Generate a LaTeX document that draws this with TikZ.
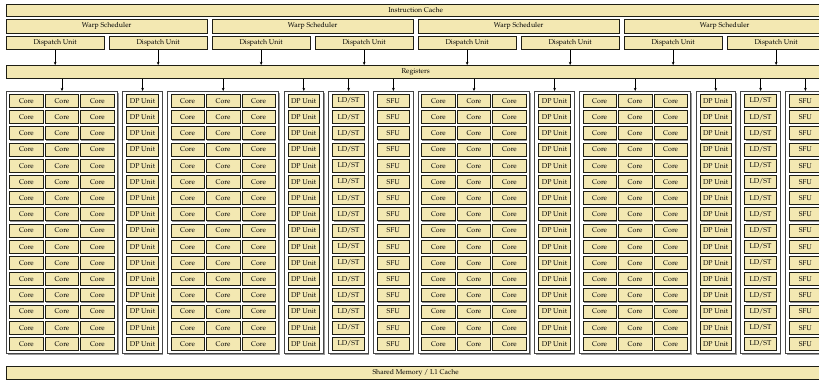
\documentclass[tikz,border=0pt]{standalone}
\usepackage[T1]{fontenc}
\usetikzlibrary{shadows,arrows.meta}
\renewcommand{\rmdefault}{ppl}
\newcommand{\ldstlabel}{LD/ST}
\definecolor{unitfill}{RGB}{243,232,178}
\definecolor{boxline}{RGB}{30,30,20}
\definecolor{grpline}{RGB}{70,70,70}
\tikzset{
  unit/.style={draw=boxline, fill=unitfill, line width=0.7pt, inner sep=0pt,
    anchor=north west, font=\fontsize{7}{8}\selectfont,
    drop shadow={shadow xshift=0.8pt, shadow yshift=-0.8pt, fill=black!55, opacity=0.8}},
  grp/.style={draw=grpline, fill=white, line width=1pt, inner sep=0pt, anchor=north west,
    drop shadow={shadow xshift=1pt, shadow yshift=-1pt, fill=black!50, opacity=0.8}},
  link/.style={-{Stealth[length=3.2pt,width=2.8pt]}, line width=0.7pt, draw=black}
}
\begin{document}
\begin{tikzpicture}[x=1pt,y=1pt]
\fill[white] (0,0) rectangle (819,-381);
\useasboundingbox (0,0) rectangle (819,-381);
% top
\node[unit, minimum width=818.6pt, minimum height=12pt] (icache) at (6,-4) {Instruction Cache};
\foreach \i in {0,...,3}{
  \node[unit, minimum width=200.6pt, minimum height=14pt] (warp\i) at ({6+\i*206},-19) {Warp Scheduler};
  \foreach \j in {0,1}{
    \node[unit, minimum width=97.6pt, minimum height=13pt] (disp\i\j) at ({6+\i*206+\j*103},-36) {Dispatch Unit};
  }
}
\node[unit, minimum width=818.6pt, minimum height=13pt] (regs) at (6,-65) {Registers};
\foreach \i in {0,...,3}{
  \foreach \j in {0,1}{
    \draw[link] (disp\i\j.south) -- (disp\i\j.south |- regs.north);
  }
}
% execution groups
\foreach \h in {0,1}{
  \foreach \g/\gx/\gw/\nm/\cw/\cm/\lbl in {a/0/111/2/33.5/3.3/Core, b/116.4/39.4/0/31.4/4/DP Unit, c/161.2/111/2/33.5/3.3/Core, d/277.6/39.4/0/31.4/4/DP Unit, e/322.4/39.4/0/31.4/4/\ldstlabel, f/367.2/39.4/0/31.4/4/SFU}{
    \pgfmathsetmacro\X{6+\h*412+\gx}
    \node[grp, minimum width=\gw pt, minimum height=262pt] (grp\h\g) at (\X,-91) {};
    \draw[link] (grp\h\g.north |- regs.south) -- (grp\h\g.north);
    \foreach \r in {0,...,15}{
      \foreach \k in {0,...,\nm}{
        \pgfmathsetmacro\cx{\X+\cm+\k*(\cw+2)}
        \pgfmathsetmacro\cy{-(94+\r*16.2)}
        \node[unit, minimum width=\cw pt, minimum height=13pt] (cell\h\g-\r-\k) at (\cx,\cy) {\lbl};
      }
    }
  }
}
\node[unit, minimum width=818.6pt, minimum height=13pt] (shmem) at (6,-366) {Shared Memory / L1 Cache};
\end{tikzpicture}
\end{document}
